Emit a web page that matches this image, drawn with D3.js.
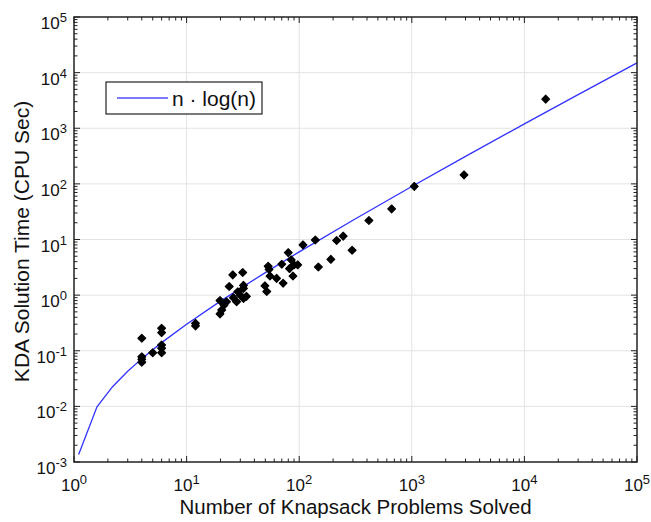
<!DOCTYPE html>
<html>
<head>
<meta charset="utf-8">
<script src="https://cdn.jsdelivr.net/npm/d3@7"></script>
<style>
  body { margin: 0; background: #fff; }
  text { font-family: "Liberation Sans", Arial, Helvetica, sans-serif; fill: #111; }
</style>
</head>
<body>
<svg id="chart" width="651" height="522"></svg>
<script>
// problems solved (n) and KDA time in CPU sec
const problemsSolved = [4, 4, 4, 4, 5, 6, 6, 6, 6, 6, 12, 12,
  19.8, 19.8, 20.5, 21.5, 22.6, 23.9, 25.7, 26, 27.8, 30, 31.5, 32, 32, 32, 28.5, 34,
  49.6, 51.5, 53, 54, 55, 63, 72, 70, 80, 85, 90, 97, 82, 88,
  108, 139, 148, 191, 215, 246, 295, 416, 662, 1052, 2910, 15450];
const cpuSec = [0.168, 0.078, 0.070, 0.062, 0.092, 0.254, 0.212, 0.127, 0.111, 0.092, 0.31, 0.28,
  0.80, 0.46, 0.54, 0.66, 0.76, 1.43, 2.31, 0.90, 0.76, 1.0, 2.55, 1.5, 1.32, 0.87, 1.15, 0.95,
  1.47, 1.16, 3.3, 2.9, 2.2, 2.0, 1.64, 3.6, 5.8, 4.3, 3.5, 3.5, 3.0, 2.2,
  8.0, 9.8, 3.2, 4.4, 9.6, 11.5, 6.4, 22, 35.5, 90, 145, 3340];

// the n*log(n) reference curve, sampled as drawn
const curveN = [1.1, 1.6, 2.2, 3, 4.2, 6, 10, 20, 50, 100, 300, 1000, 3000, 10000, 30000, 100000];
const curveT = [0.00136, 0.0098, 0.0226, 0.0428, 0.0784, 0.140, 0.299, 0.779, 2.54, 5.99,
  22.2, 89.8, 312, 1197, 4021, 14966];

const xExps = [0, 1, 2, 3, 4, 5];
const yExps = [-3, -2, -1, 0, 1, 2, 3, 4, 5];

const svg = d3.select('#chart');
const plotL = 74, plotR = 637, plotT = 17, plotB = 462;

const x = d3.scaleLog().domain([1, 1e5]).range([plotL, plotR]);
const y = d3.scaleLog().domain([1e-3, 1e5]).range([plotB, plotT]);

// grid
svg.append('g').selectAll('line').data(xExps.slice(1, -1)).join('line')
  .attr('x1', d => x(Math.pow(10, d))).attr('x2', d => x(Math.pow(10, d)))
  .attr('y1', plotT).attr('y2', plotB)
  .attr('stroke', '#e3e3e3').attr('stroke-width', 1);
svg.append('g').selectAll('line').data(yExps.slice(1, -1)).join('line')
  .attr('y1', d => y(Math.pow(10, d))).attr('y2', d => y(Math.pow(10, d)))
  .attr('x1', plotL).attr('x2', plotR)
  .attr('stroke', '#e3e3e3').attr('stroke-width', 1);

// minor + major ticks, inward on all four sides
function tickVals(exps) {
  const out = [];
  exps.forEach((e, i) => {
    out.push({ v: Math.pow(10, e), major: true });
    if (i < exps.length - 1) for (let k = 2; k <= 9; k++) out.push({ v: k * Math.pow(10, e), major: false });
  });
  return out;
}
const tk = svg.append('g').attr('stroke', '#222').attr('stroke-width', 1);
tickVals(xExps).forEach(t => {
  const px = x(t.v), len = t.major ? 6 : 3.5;
  tk.append('line').attr('x1', px).attr('x2', px).attr('y1', plotB).attr('y2', plotB - len);
  tk.append('line').attr('x1', px).attr('x2', px).attr('y1', plotT).attr('y2', plotT + len);
});
tickVals(yExps).forEach(t => {
  const py = y(t.v), len = t.major ? 6 : 3.5;
  tk.append('line').attr('y1', py).attr('y2', py).attr('x1', plotL).attr('x2', plotL + len);
  tk.append('line').attr('y1', py).attr('y2', py).attr('x1', plotR).attr('x2', plotR - len);
});

// curve
svg.append('path')
  .datum(curveN.map((n, i) => [n, curveT[i]]))
  .attr('d', d3.line().x(d => x(d[0])).y(d => y(d[1])))
  .attr('fill', 'none').attr('stroke', '#3232ff').attr('stroke-width', 1.3);

// points
svg.append('g').selectAll('path').data(problemsSolved.map((n, i) => [n, cpuSec[i]])).join('path')
  .attr('d', d3.symbol().type(d3.symbolSquare).size(30))
  .attr('transform', d => `translate(${x(d[0])},${y(d[1])}) rotate(45)`)
  .attr('fill', '#000').attr('stroke', '#000').attr('stroke-width', 1.2).attr('stroke-linejoin', 'round');

// frame
svg.append('rect').attr('x', plotL).attr('y', plotT).attr('width', plotR - plotL).attr('height', plotB - plotT)
  .attr('fill', 'none').attr('stroke', '#222').attr('stroke-width', 1.5);

// tick labels
function powLabel(sel, e) {
  sel.append('tspan').text('10');
  sel.append('tspan').attr('dy', -7).attr('font-size', 13).text(e);
}
xExps.forEach(e => {
  const t = svg.append('text').attr('x', x(Math.pow(10, e))).attr('y', 491)
    .attr('text-anchor', 'middle').attr('font-size', 17);
  powLabel(t, e);
});
yExps.forEach(e => {
  const t = svg.append('text').attr('x', 67).attr('y', y(Math.pow(10, e)) + 12)
    .attr('text-anchor', 'end').attr('font-size', 17);
  powLabel(t, e);
});

// axis labels
svg.append('text').attr('x', (plotL + plotR) / 2).attr('y', 514)
  .attr('text-anchor', 'middle').attr('font-size', 20.5)
  .text('Number of Knapsack Problems Solved');
svg.append('text').attr('transform', `translate(29,${(plotT + plotB) / 2 + 2}) rotate(-90)`)
  .attr('text-anchor', 'middle').attr('font-size', 21)
  .text('KDA Solution Time (CPU Sec)');

// legend
const lg = svg.append('g');
lg.append('rect').attr('x', 106).attr('y', 82).attr('width', 156).attr('height', 32)
  .attr('fill', '#fff').attr('stroke', '#222').attr('stroke-width', 1.2);
lg.append('line').attr('x1', 117).attr('x2', 168).attr('y1', 98).attr('y2', 98)
  .attr('stroke', '#7a7aff').attr('stroke-width', 2);
lg.append('text').attr('x', 172).attr('y', 106).attr('font-size', 21).text('n · log(n)');
</script>
</body>
</html>
